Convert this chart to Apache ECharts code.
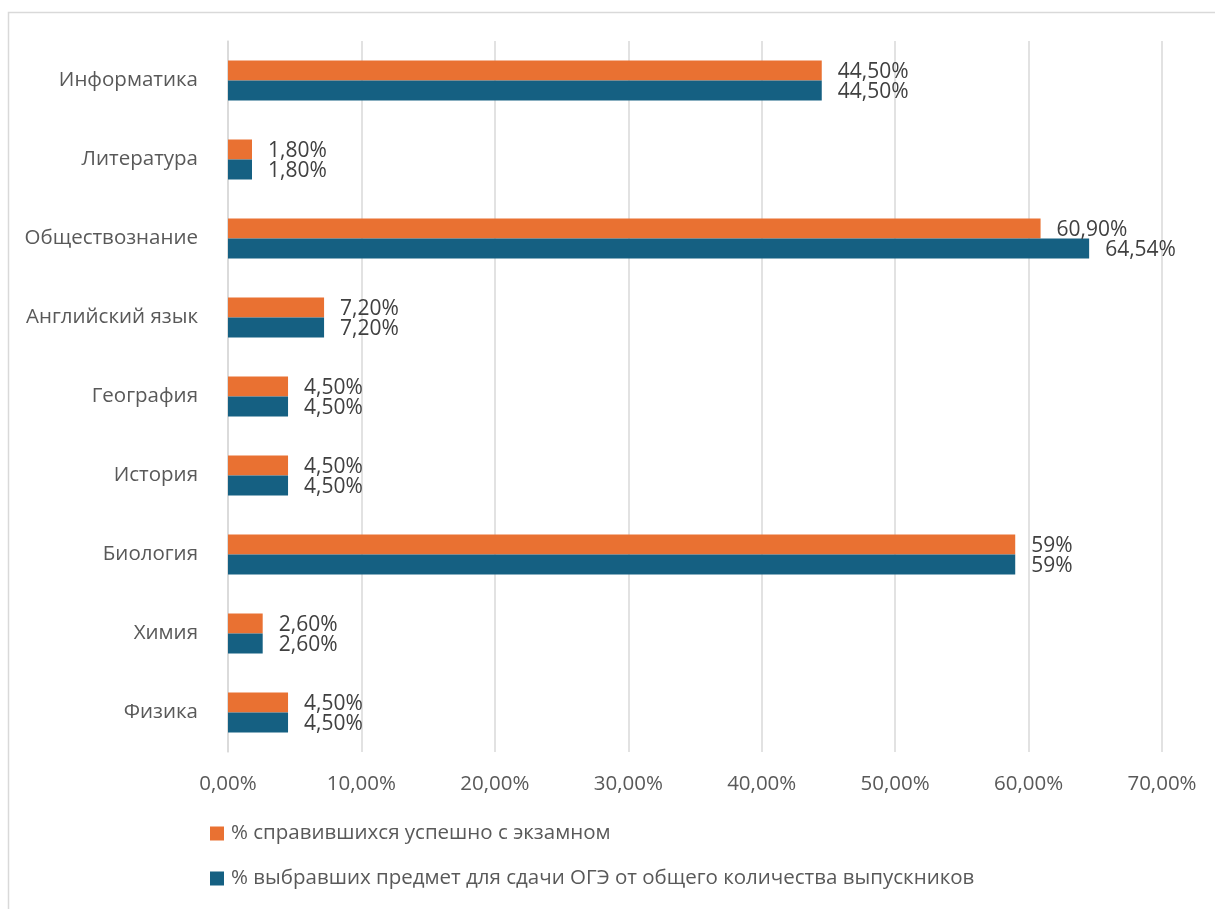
<!DOCTYPE html>
<html>
<head>
<meta charset="utf-8">
<script src="https://cdn.jsdelivr.net/npm/echarts@6/dist/echarts.min.js"></script>
<style>
html,body{margin:0;padding:0;background:#fff;}
#main{width:1215px;height:909px;}
</style>
</head>
<body>
<div id="main"></div>
<script>
const categories = ['Информатика','Литература','Обществознание','Английский язык','География','История','Биология','Химия','Физика'];
const seriesNames = ['% справившихся успешно с экзамном','% выбравших предмет для сдачи ОГЭ от общего количества выпускников'];
const successValues = [44.5, 1.8, 60.9, 7.2, 4.5, 4.5, 59, 2.6, 4.5];
const chosenValues = [44.5, 1.8, 64.54, 7.2, 4.5, 4.5, 59, 2.6, 4.5];
const colors = ['#E97132', '#156082'];

const FONT = '"Open Sans", "Noto Sans", sans-serif';
function fmt(v){
  return Number.isInteger(v) ? v + '%' : v.toFixed(2).replace('.', ',') + '%';
}
const chart = echarts.init(document.getElementById('main'));
const labelCfg = {
  show: true, position: 'right', distance: 16, offset: [0, 2],
  color: '#404040', fontSize: 21, fontFamily: FONT,
  formatter: p => fmt(p.value)
};
chart.setOption({
  animation: false,
  backgroundColor: '#fff',
  textStyle: {fontFamily: FONT},
  graphic: [{
    type: 'rect', silent: true,
    shape: {x: 8.5, y: 12.5, width: 1400, height: 1100},
    style: {fill: 'none', stroke: '#d9d9d9', lineWidth: 1.5}
  }],
  grid: {left: 228, right: 53, top: 41, bottom: 157},
  legend: {
    orient: 'vertical', left: 205, top: 818,
    itemWidth: 14, itemHeight: 14, itemGap: 24,
    icon: 'rect',
    data: seriesNames,
    textStyle: {color: '#595959', fontSize: 20.5, fontFamily: FONT, lineHeight: 21, padding: [0, 0, 0, 2]}
  },
  xAxis: {
    type: 'value', min: 0, max: 70, interval: 10,
    axisLine: {show: false}, axisTick: {show: false},
    splitLine: {lineStyle: {color: '#d9d9d9', width: 1.5}},
    axisLabel: {color: '#595959', fontSize: 20.5, fontFamily: FONT, margin: 22,
      formatter: v => v.toFixed(2).replace('.', ',') + '%'}
  },
  yAxis: {
    type: 'category', inverse: true, data: categories,
    axisLine: {show: true, lineStyle: {color: '#d9d9d9', width: 1.5}},
    axisTick: {show: false},
    axisLabel: {color: '#595959', fontSize: 20.5, fontFamily: FONT, margin: 30, padding: [3, 0, 0, 0]}
  },
  series: [
    {name: seriesNames[0], type: 'bar', data: successValues, barWidth: 20, barGap: '0%',
     itemStyle: {color: colors[0]}, label: labelCfg},
    {name: seriesNames[1], type: 'bar', data: chosenValues, barWidth: 20, barGap: '0%',
     itemStyle: {color: colors[1]}, label: labelCfg}
  ]
});
</script>
</body>
</html>
